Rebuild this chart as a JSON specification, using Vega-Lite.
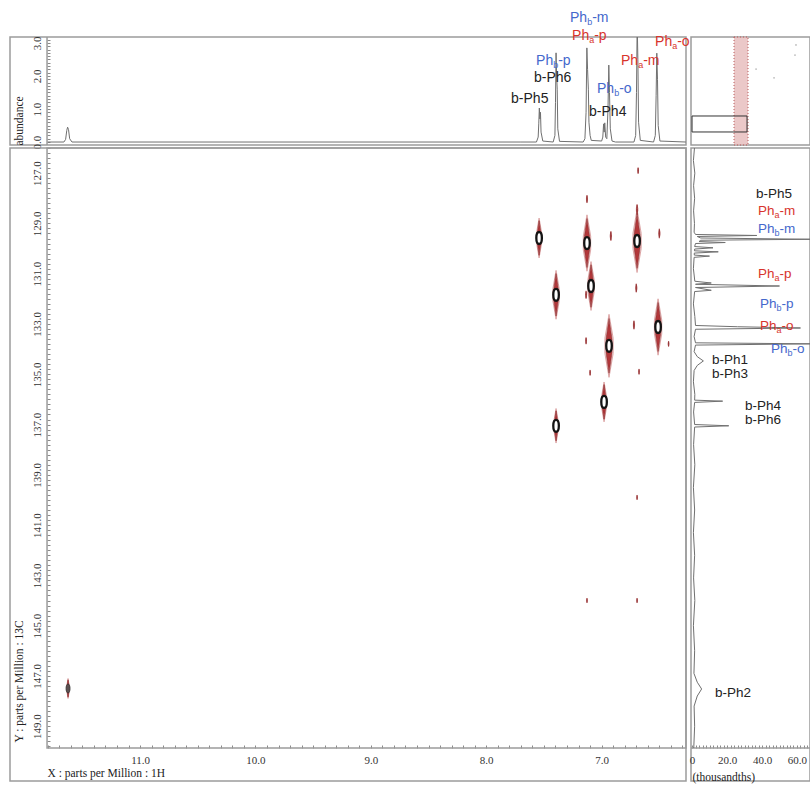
{
  "$schema": "https://vega.github.io/schema/vega-lite/v6.json",
  "background": "white",
  "padding": {"left": 9, "top": 9, "right": 0, "bottom": 0},
  "config": {
    "view": {"stroke": "#9c9c9c", "strokeWidth": 1.5},
    "axis": {
      "domain": false, "grid": false,
      "labelFont": "Liberation Serif", "labelFontSize": 11, "labelColor": "#333",
      "titleFont": "Liberation Serif", "titleFontSize": 11.5, "titleFontWeight": "normal", "titleColor": "#222",
      "tickColor": "#8a8a8a", "tickWidth": 1, "labelOverlap": false
    },
    "text": {"font": "Liberation Sans"}
  },
  "datasets": {
    "top1h": [
      {"h": 11.8, "ab": 0}, {"h": 11.66, "ab": 0}, {"h": 11.645, "ab": 0.08}, {"h": 11.635, "ab": 0.35}, {"h": 11.628, "ab": 0.45}, {"h": 11.62, "ab": 0.38}, {"h": 11.61, "ab": 0.1}, {"h": 11.59, "ab": 0},
      {"h": 7.7, "ab": 0}, {"h": 7.565, "ab": 0}, {"h": 7.55, "ab": 0.15}, {"h": 7.545, "ab": 0.55}, {"h": 7.54, "ab": 1.03}, {"h": 7.535, "ab": 0.7}, {"h": 7.53, "ab": 0.9}, {"h": 7.525, "ab": 0.3}, {"h": 7.51, "ab": 0.03},
      {"h": 7.42, "ab": 0}, {"h": 7.405, "ab": 0.2}, {"h": 7.4, "ab": 1.2}, {"h": 7.395, "ab": 2.7}, {"h": 7.39, "ab": 2.0}, {"h": 7.385, "ab": 1.6}, {"h": 7.38, "ab": 0.4}, {"h": 7.365, "ab": 0.02},
      {"h": 7.16, "ab": 0}, {"h": 7.145, "ab": 0.1}, {"h": 7.135, "ab": 0.9}, {"h": 7.128, "ab": 2.85}, {"h": 7.122, "ab": 2.2}, {"h": 7.115, "ab": 1.6}, {"h": 7.11, "ab": 0.6}, {"h": 7.1, "ab": 0.2}, {"h": 7.09, "ab": 0.05},
      {"h": 7.0, "ab": 0.03}, {"h": 6.99, "ab": 0.15}, {"h": 6.983, "ab": 0.55}, {"h": 6.978, "ab": 0.3}, {"h": 6.973, "ab": 0.58}, {"h": 6.965, "ab": 0.15},
      {"h": 6.955, "ab": 0.1}, {"h": 6.945, "ab": 1.0}, {"h": 6.938, "ab": 2.33}, {"h": 6.932, "ab": 1.5}, {"h": 6.925, "ab": 0.4}, {"h": 6.91, "ab": 0.03}, {"h": 6.88, "ab": 0},
      {"h": 6.72, "ab": 0}, {"h": 6.705, "ab": 0.2}, {"h": 6.698, "ab": 1.5}, {"h": 6.692, "ab": 3.6}, {"h": 6.686, "ab": 2.5}, {"h": 6.68, "ab": 0.6}, {"h": 6.665, "ab": 0.05},
      {"h": 6.55, "ab": 0}, {"h": 6.535, "ab": 0.2}, {"h": 6.528, "ab": 1.4}, {"h": 6.522, "ab": 2.69}, {"h": 6.516, "ab": 1.9}, {"h": 6.51, "ab": 0.5}, {"h": 6.495, "ab": 0.03}, {"h": 6.27, "ab": 0}
    ],
    "c13": [
      {"c": 126.0, "v": 1.4}, {"c": 126.5, "v": 0.8}, {"c": 127.0, "v": 1.6}, {"c": 127.5, "v": 0.9}, {"c": 128.0, "v": 1.5}, {"c": 128.5, "v": 0.9}, {"c": 129.0, "v": 1.4}, {"c": 129.35, "v": 1.2},
      {"c": 129.44, "v": 2}, {"c": 129.48, "v": 37}, {"c": 129.52, "v": 3}, {"c": 129.58, "v": 5}, {"c": 129.63, "v": 68}, {"c": 129.67, "v": 5}, {"c": 129.72, "v": 4}, {"c": 129.76, "v": 19}, {"c": 129.8, "v": 2},
      {"c": 129.92, "v": 1.5}, {"c": 129.97, "v": 12}, {"c": 130.02, "v": 1.5}, {"c": 130.09, "v": 1.4}, {"c": 130.13, "v": 15}, {"c": 130.18, "v": 1.3}, {"c": 130.26, "v": 1.3}, {"c": 130.3, "v": 10}, {"c": 130.35, "v": 1.2},
      {"c": 130.8, "v": 0.8}, {"c": 131.3, "v": 1.6}, {"c": 131.37, "v": 11}, {"c": 131.42, "v": 2}, {"c": 131.49, "v": 50}, {"c": 131.55, "v": 2}, {"c": 131.66, "v": 11}, {"c": 131.71, "v": 1.5},
      {"c": 132.2, "v": 0.8}, {"c": 132.7, "v": 1.6}, {"c": 133.06, "v": 2}, {"c": 133.11, "v": 26}, {"c": 133.16, "v": 62}, {"c": 133.21, "v": 2},
      {"c": 133.5, "v": 1.2}, {"c": 133.75, "v": 2}, {"c": 133.79, "v": 68}, {"c": 133.84, "v": 2},
      {"c": 134.1, "v": 1.2}, {"c": 134.3, "v": 3}, {"c": 134.47, "v": 6.5}, {"c": 134.65, "v": 3}, {"c": 134.85, "v": 1.2},
      {"c": 135.3, "v": 0.8}, {"c": 135.8, "v": 1.6}, {"c": 136.03, "v": 1.5}, {"c": 136.07, "v": 17.5}, {"c": 136.12, "v": 1.5},
      {"c": 136.5, "v": 0.9}, {"c": 137.0, "v": 1.5}, {"c": 137.05, "v": 21}, {"c": 137.1, "v": 1.5},
      {"c": 137.8, "v": 0.9}, {"c": 138.6, "v": 1.6}, {"c": 139.5, "v": 0.8}, {"c": 140.4, "v": 1.5}, {"c": 141.3, "v": 0.8}, {"c": 142.2, "v": 1.5}, {"c": 143.1, "v": 0.9}, {"c": 144.0, "v": 1.6}, {"c": 145.0, "v": 0.8}, {"c": 146.0, "v": 1.5}, {"c": 146.9, "v": 1.1},
      {"c": 147.25, "v": 3}, {"c": 147.52, "v": 5.5}, {"c": 147.8, "v": 3}, {"c": 148.2, "v": 1.2}, {"c": 149.0, "v": 1.5}, {"c": 149.87, "v": 1.0}
    ],
    "peaks": [
      {"h": 7.542, "c": 129.58, "i": 2, "kind": "cross"},
      {"h": 7.127, "c": 129.78, "i": 4, "kind": "cross"},
      {"h": 6.693, "c": 129.7, "i": 5, "kind": "cross"},
      {"h": 7.395, "c": 131.84, "i": 3, "kind": "cross"},
      {"h": 7.092, "c": 131.49, "i": 3, "kind": "cross"},
      {"h": 6.511, "c": 133.12, "i": 4, "kind": "cross"},
      {"h": 6.936, "c": 133.87, "i": 5, "kind": "cross"},
      {"h": 6.979, "c": 136.1, "i": 2, "kind": "cross"},
      {"h": 7.395, "c": 137.05, "i": 1.5, "kind": "cross"},
      {"h": 11.624, "c": 147.5, "i": 0.5, "kind": "weak"},
      {"h": 6.684, "c": 126.9, "i": 0.05, "kind": "noise"},
      {"h": 7.127, "c": 128.03, "i": 0.08, "kind": "noise"},
      {"h": 6.693, "c": 128.45, "i": 0.15, "kind": "noise"},
      {"h": 6.92, "c": 129.5, "i": 0.12, "kind": "noise"},
      {"h": 6.5, "c": 129.4, "i": 0.12, "kind": "noise"},
      {"h": 6.7, "c": 131.57, "i": 0.1, "kind": "noise"},
      {"h": 7.135, "c": 131.84, "i": 0.08, "kind": "noise"},
      {"h": 6.72, "c": 133.04, "i": 0.1, "kind": "noise"},
      {"h": 7.135, "c": 133.67, "i": 0.06, "kind": "noise"},
      {"h": 6.42, "c": 133.79, "i": 0.04, "kind": "noise"},
      {"h": 6.676, "c": 134.9, "i": 0.04, "kind": "noise"},
      {"h": 7.1, "c": 134.94, "i": 0.04, "kind": "noise"},
      {"h": 6.693, "c": 139.9, "i": 0.03, "kind": "noise"},
      {"h": 7.127, "c": 144.0, "i": 0.03, "kind": "noise"},
      {"h": 6.693, "c": 144.0, "i": 0.03, "kind": "noise"}
    ],
    "topLabels": [
      {"label": "Phb-m", "main": "Ph", "sub": "b", "tail": "-m", "grp": "b", "h": 7.274, "ab": 3.77},
      {"label": "Pha-p", "main": "Ph", "sub": "a", "tail": "-p", "grp": "a", "h": 7.256, "ab": 3.22},
      {"label": "Phb-p", "main": "Ph", "sub": "b", "tail": "-p", "grp": "b", "h": 7.568, "ab": 2.45},
      {"label": "b-Ph6", "main": "b-Ph6", "sub": "", "tail": "", "grp": "n", "h": 7.586, "ab": 1.95},
      {"label": "b-Ph5", "main": "b-Ph5", "sub": "", "tail": "", "grp": "n", "h": 7.785, "ab": 1.3},
      {"label": "Phb-o", "main": "Ph", "sub": "b", "tail": "-o", "grp": "b", "h": 7.04, "ab": 1.61},
      {"label": "b-Ph4", "main": "b-Ph4", "sub": "", "tail": "", "grp": "n", "h": 7.109, "ab": 0.91},
      {"label": "Pha-m", "main": "Ph", "sub": "a", "tail": "-m", "grp": "a", "h": 6.832, "ab": 2.45},
      {"label": "Pha-o", "main": "Ph", "sub": "a", "tail": "-o", "grp": "a", "h": 6.537, "ab": 3.03}
    ],
    "sideLabels": [
      {"label": "b-Ph5", "main": "b-Ph5", "sub": "", "tail": "", "grp": "n", "v": 36.6, "c": 127.83},
      {"label": "Pha-m", "main": "Ph", "sub": "a", "tail": "-m", "grp": "a", "v": 37.7, "c": 128.5},
      {"label": "Phb-m", "main": "Ph", "sub": "b", "tail": "-m", "grp": "b", "v": 37.7, "c": 129.22},
      {"label": "Pha-p", "main": "Ph", "sub": "a", "tail": "-p", "grp": "a", "v": 37.7, "c": 131.01},
      {"label": "Phb-p", "main": "Ph", "sub": "b", "tail": "-p", "grp": "b", "v": 38.9, "c": 132.2},
      {"label": "Pha-o", "main": "Ph", "sub": "a", "tail": "-o", "grp": "a", "v": 38.9, "c": 133.08},
      {"label": "Phb-o", "main": "Ph", "sub": "b", "tail": "-o", "grp": "b", "v": 45.1, "c": 133.99},
      {"label": "b-Ph1", "main": "b-Ph1", "sub": "", "tail": "", "grp": "n", "v": 11.4, "c": 134.44},
      {"label": "b-Ph3", "main": "b-Ph3", "sub": "", "tail": "", "grp": "n", "v": 11.4, "c": 134.98},
      {"label": "b-Ph4", "main": "b-Ph4", "sub": "", "tail": "", "grp": "n", "v": 30.3, "c": 136.28},
      {"label": "b-Ph6", "main": "b-Ph6", "sub": "", "tail": "", "grp": "n", "v": 30.3, "c": 136.82},
      {"label": "b-Ph2", "main": "b-Ph2", "sub": "", "tail": "", "grp": "n", "v": 13.1, "c": 147.67}
    ],
    "window": [{"h1": 11.806, "h2": 6.269, "c1": 126.0, "c2": 149.87}],
    "overviewBand": [{"h1": 7.58, "h2": 6.17, "c1": 8.1, "c2": 169.3}],
    "overviewSpecks": [
      {"h": 1.34, "c": 20}, {"h": 1.44, "c": 35}, {"h": 5.36, "c": 56}, {"h": 3.55, "c": 69}
    ]
  },
  "columns": 2,
  "spacing": {"row": 3, "column": 5},
  "bounds": "flush",
  "concat": [
    {
      "width": 676,
      "height": 108,
      "layer": [
        {
          "data": {"name": "window"},
          "mark": {"type": "rule", "color": "#9c9c9c", "strokeWidth": 1.5},
          "encoding": {
            "x": {"field": "h1", "type": "quantitative", "scale": {"domain": [6.269, 12.127], "reverse": true, "nice": false, "zero": false}, "axis": null}
          }
        },
        {
          "data": {"name": "top1h"},
          "mark": {"type": "line", "color": "#707070", "strokeWidth": 1, "clip": true},
          "encoding": {
            "x": {"field": "h", "type": "quantitative", "axis": null},
            "y": {
              "field": "ab", "type": "quantitative",
              "scale": {"domain": [-0.09, 3.18], "nice": false, "zero": false},
              "axis": {
                "offset": -37,
                "title": "abundance", "titleAngle": 270, "titleX": -28, "titleY": 108, "titleAlign": "left", "titleBaseline": "middle",
                "labelAngle": 270, "labelAlign": "center", "labelBaseline": "bottom", "labelPadding": 8, "tickSize": -3, "tickCount": 33,
                "labelFlush": false, "labelOverlap": false,
                "labelExpr": "abs(datum.value - round(datum.value)) < 0.01 ? format(datum.value, '.1f') : ''"
              }
            }
          }
        },
        {
          "data": {"name": "topLabels"},
          "mark": {"type": "text", "align": "left", "baseline": "middle", "fontSize": 14},
          "encoding": {
            "x": {"field": "h", "type": "quantitative", "axis": null},
            "y": {"field": "ab", "type": "quantitative"},
            "text": {"field": "main"},
            "color": {"field": "grp", "type": "nominal", "scale": {"domain": ["a", "b", "n"], "range": ["#d8342c", "#4468cc", "#222222"]}, "legend": null}
          }
        },
        {
          "data": {"name": "topLabels"},
          "mark": {"type": "text", "align": "left", "baseline": "middle", "fontSize": 9, "dx": 17.1, "dy": 4},
          "encoding": {
            "x": {"field": "h", "type": "quantitative", "axis": null},
            "y": {"field": "ab", "type": "quantitative"},
            "text": {"field": "sub"},
            "color": {"field": "grp", "type": "nominal", "legend": null}
          }
        },
        {
          "data": {"name": "topLabels"},
          "mark": {"type": "text", "align": "left", "baseline": "middle", "fontSize": 14, "dx": 22.1},
          "encoding": {
            "x": {"field": "h", "type": "quantitative", "axis": null},
            "y": {"field": "ab", "type": "quantitative"},
            "text": {"field": "tail"},
            "color": {"field": "grp", "type": "nominal", "legend": null}
          }
        }
      ]
    },
    {
      "width": 119,
      "height": 108,
      "layer": [
        {
          "data": {"name": "overviewBand"},
          "mark": {"type": "rect", "fill": "#e3b0b0", "fillOpacity": 0.7, "stroke": "#b85a5a", "strokeWidth": 1, "strokeDash": [1, 2]},
          "encoding": {
            "x": {"field": "h1", "type": "quantitative", "scale": {"domain": [-0.07, 11.91], "reverse": true, "nice": false, "zero": false}, "axis": null},
            "x2": {"field": "h2"},
            "y": {"field": "c1", "type": "quantitative", "scale": {"domain": [8.1, 169.3], "reverse": true, "nice": false, "zero": false}, "axis": null},
            "y2": {"field": "c2"}
          }
        },
        {
          "data": {"name": "window"},
          "mark": {"type": "rect", "filled": false, "color": "#333", "strokeWidth": 1},
          "encoding": {
            "x": {"field": "h1", "type": "quantitative", "axis": null},
            "x2": {"field": "h2"},
            "y": {"field": "c1", "type": "quantitative", "axis": null},
            "y2": {"field": "c2"}
          }
        },
        {
          "data": {"name": "overviewSpecks"},
          "mark": {"type": "point", "filled": true, "color": "#999", "size": 3},
          "encoding": {
            "x": {"field": "h", "type": "quantitative", "axis": null},
            "y": {"field": "c", "type": "quantitative", "axis": null}
          }
        }
      ]
    },
    {
      "width": 676,
      "height": 633,
      "layer": [
        {
          "data": {"name": "window"},
          "mark": {"type": "rect", "filled": false, "color": "#9c9c9c", "strokeWidth": 1.5},
          "encoding": {
            "x": {"field": "h1", "type": "quantitative"},
            "x2": {"field": "h2"},
            "y": {"field": "c1", "type": "quantitative"},
            "y2": {"field": "c2"}
          }
        },
        {
          "data": {"name": "peaks"},
          "mark": {"type": "point", "shape": "M0,-1.15L0.15,-0.28L0.15,0.28L0,1.15L-0.15,0.28L-0.15,-0.28Z", "filled": false, "color": "#d99a9a", "strokeWidth": 1, "opacity": 0.9},
          "encoding": {
            "x": {"field": "h", "type": "quantitative"},
            "y": {"field": "c", "type": "quantitative"},
            "size": {"field": "i", "type": "quantitative", "scale": {"domain": [0, 5], "range": [0, 3000]}, "legend": null}
          }
        },
        {
          "data": {"name": "peaks"},
          "mark": {"type": "point", "shape": "M0,-1L0.11,-0.25L0.11,0.25L0,1L-0.11,0.25L-0.11,-0.25Z", "filled": true, "color": "#a81c1f", "opacity": 0.88, "stroke": "#7a1012", "strokeWidth": 0.6},
          "encoding": {
            "x": {
              "field": "h", "type": "quantitative",
              "scale": {"domain": [6.269, 12.127], "reverse": true, "nice": false, "zero": false},
              "axis": {
                "offset": -33,
                "title": "X : parts per Million : 1H", "titleX": 37, "titleY": 25, "titleAlign": "left", "titleBaseline": "middle", "titleAnchor": "start",
                "labelBaseline": "top", "labelPadding": 9.5, "tickSize": -3, "tickCount": 58, "labelFlush": false, "labelOverlap": false,
                "tickColor": {"condition": {"test": "datum.value > 11.85", "value": "rgba(0,0,0,0)"}, "value": "#8a8a8a"},
                "labelExpr": "datum.value < 11.85 && abs(datum.value - round(datum.value)) < 0.01 ? format(datum.value, '.1f') : ''"
              }
            },
            "y": {
              "field": "c", "type": "quantitative",
              "scale": {"domain": [126.0, 151.18], "reverse": true, "nice": false, "zero": false},
              "axis": {
                "offset": -37,
                "title": "Y : parts per Million : 13C", "titleAngle": 270, "titleX": -28, "titleY": 594, "titleAlign": "left", "titleBaseline": "middle",
                "labelAngle": 270, "labelAlign": "center", "labelBaseline": "bottom", "labelPadding": 8, "tickSize": -3, "tickCount": 126,
                "labelFlush": false, "labelOverlap": false,
                "tickColor": {"condition": {"test": "datum.value > 149.9", "value": "rgba(0,0,0,0)"}, "value": "#8a8a8a"},
                "labelExpr": "datum.value < 149.9 && abs(datum.value - round(datum.value)) < 0.01 && round(datum.value) % 2 == 1 ? format(datum.value, '.1f') : ''"
              }
            },
            "size": {"field": "i", "type": "quantitative", "scale": {"domain": [0, 5], "range": [0, 3000]}, "legend": null}
          }
        },
        {
          "data": {"name": "peaks"},
          "transform": [{"filter": "datum.kind == 'cross'"}],
          "mark": {"type": "point", "shape": "M0,-6C3.7,-6 3.7,6 0,6C-3.7,6 -3.7,-6 0,-6Z", "size": 4, "filled": false, "fill": "white", "fillOpacity": 1, "color": "#141414", "strokeWidth": 2.3, "opacity": 1},
          "encoding": {
            "x": {"field": "h", "type": "quantitative"},
            "y": {"field": "c", "type": "quantitative"}
          }
        },
        {
          "data": {"name": "peaks"},
          "transform": [{"filter": "datum.kind == 'weak'"}],
          "mark": {"type": "point", "shape": "M0,-4.5C2.6,-4.5 2.6,4.5 0,4.5C-2.6,4.5 -2.6,-4.5 0,-4.5Z", "size": 4, "filled": true, "color": "#555", "stroke": "#333", "strokeWidth": 1, "opacity": 0.9},
          "encoding": {
            "x": {"field": "h", "type": "quantitative"},
            "y": {"field": "c", "type": "quantitative"}
          }
        }
      ]
    },
    {
      "width": 119,
      "height": 633,
      "layer": [
        {
          "data": {"name": "window"},
          "mark": {"type": "rule", "color": "#9c9c9c", "strokeWidth": 1.5},
          "encoding": {
            "y": {"field": "c2", "type": "quantitative", "scale": {"domain": [126.0, 151.18], "reverse": true, "nice": false, "zero": false}, "axis": null}
          }
        },
        {
          "data": {"name": "c13"},
          "mark": {"type": "line", "color": "#707070", "strokeWidth": 1, "clip": true},
          "encoding": {
            "x": {
              "field": "v", "type": "quantitative",
              "scale": {"domain": [-0.58, 67.43], "nice": false, "zero": false},
              "axis": {
                "offset": -33,
                "title": "(thousandths)", "titleX": 1, "titleY": 29.5, "titleAlign": "left", "titleBaseline": "middle", "titleAnchor": "start",
                "labelBaseline": "top", "labelPadding": 9.5, "tickSize": -3, "tickCount": 34, "labelFlush": false, "labelOverlap": false,
                "labelExpr": "abs(datum.value % 20) < 0.01 ? (abs(datum.value) < 0.01 ? '0' : format(datum.value, '.1f')) : ''"
              }
            },
            "y": {"field": "c", "type": "quantitative", "axis": null},
            "order": {"field": "c", "type": "quantitative"}
          }
        },
        {
          "data": {"name": "sideLabels"},
          "mark": {"type": "text", "align": "left", "baseline": "middle", "fontSize": 13.5},
          "encoding": {
            "x": {"field": "v", "type": "quantitative"},
            "y": {"field": "c", "type": "quantitative", "axis": null},
            "text": {"field": "main"},
            "color": {"field": "grp", "type": "nominal", "scale": {"domain": ["a", "b", "n"], "range": ["#d8342c", "#4468cc", "#222222"]}, "legend": null}
          }
        },
        {
          "data": {"name": "sideLabels"},
          "mark": {"type": "text", "align": "left", "baseline": "middle", "fontSize": 9, "dx": 16.5, "dy": 4},
          "encoding": {
            "x": {"field": "v", "type": "quantitative"},
            "y": {"field": "c", "type": "quantitative", "axis": null},
            "text": {"field": "sub"},
            "color": {"field": "grp", "type": "nominal", "legend": null}
          }
        },
        {
          "data": {"name": "sideLabels"},
          "mark": {"type": "text", "align": "left", "baseline": "middle", "fontSize": 13.5, "dx": 21.5},
          "encoding": {
            "x": {"field": "v", "type": "quantitative"},
            "y": {"field": "c", "type": "quantitative", "axis": null},
            "text": {"field": "tail"},
            "color": {"field": "grp", "type": "nominal", "legend": null}
          }
        }
      ]
    }
  ]
}
